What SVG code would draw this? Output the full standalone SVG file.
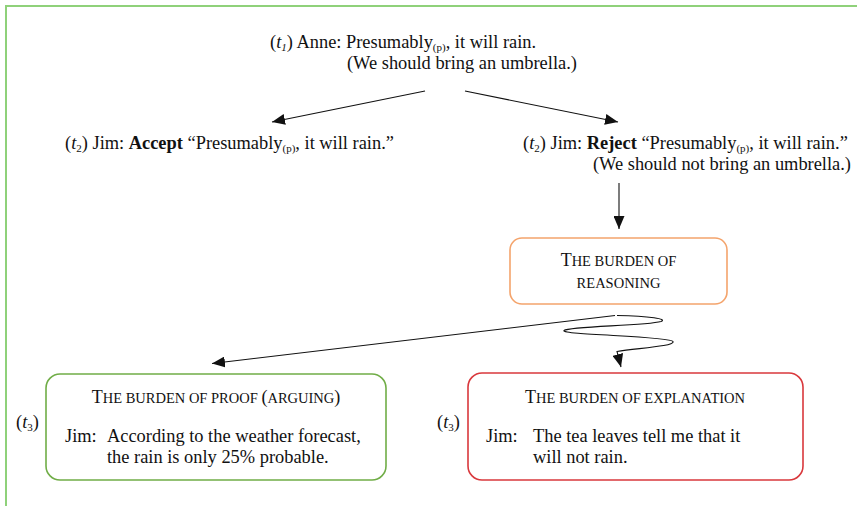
<svg xmlns="http://www.w3.org/2000/svg" width="857" height="506" viewBox="0 0 857 506">
  <style>
    text { font-family: "Liberation Serif", "Times New Roman", serif; font-size: 18.4px; fill: #111; }
    .sub { font-size: 11px; }
    .it { font-style: italic; }
    .b { font-weight: bold; }
    .cap { font-size: 18px; }
    .sm { font-size: 14.5px; }
    .conn { fill: none; stroke: #111; stroke-width: 1.1; }
    .box { fill: #fff; stroke-width: 1.6; }
  </style>
  <defs>
    <marker id="arrow" viewBox="0 0 13 11" refX="13" refY="5.5" markerWidth="13" markerHeight="11" markerUnits="userSpaceOnUse" orient="auto">
      <path d="M0,0 L13,5.5 L0,11 z" fill="#111"/>
    </marker>
  </defs>

  <rect width="857" height="506" fill="#fff"/>
  <!-- page frame -->
  <path d="M6,506 V6 H857" fill="none" stroke="#8fd17a" stroke-width="2"/>

  <!-- connectors -->
  <g id="connectors">
    <line class="conn" x1="425" y1="91" x2="272" y2="122" marker-end="url(#arrow)"/>
    <line class="conn" x1="465" y1="91" x2="618" y2="122" marker-end="url(#arrow)"/>
    <line class="conn" x1="619" y1="183" x2="619" y2="229" marker-end="url(#arrow)"/>
    <line class="conn" x1="615" y1="315.5" x2="212" y2="363.5" marker-end="url(#arrow)"/>
    <path class="conn" d="M617,315.5 C650,316 668,319 661,321.5 C645,326 570,326 564,330.5 C560,335 670,336 673,341.5 C675,346 640,348 617,351.5 L621,367" marker-end="url(#arrow)"/>
  </g>

  <!-- opening claim -->
  <g id="anne">
    <text x="270" y="48">(<tspan class="it">t</tspan><tspan class="sub it" dy="2.5">1</tspan><tspan dy="-2.5">) Anne: Presumably</tspan><tspan class="sub" dy="2.5">(p)</tspan><tspan dy="-2.5">, it will rain.</tspan></text>
    <text x="347" y="69">(We should bring an umbrella.)</text>
  </g>

  <g id="accept">
    <text x="65" y="149">(<tspan class="it">t</tspan><tspan class="sub" dy="2.5">2</tspan><tspan dy="-2.5">) Jim: </tspan><tspan class="b">Accept</tspan> “Presumably<tspan class="sub" dy="2.5">(p)</tspan><tspan dy="-2.5">, it will rain.”</tspan></text>
  </g>

  <g id="reject">
    <text x="523" y="149">(<tspan class="it">t</tspan><tspan class="sub" dy="2.5">2</tspan><tspan dy="-2.5">) Jim: </tspan><tspan class="b">Reject</tspan> “Presumably<tspan class="sub" dy="2.5">(p)</tspan><tspan dy="-2.5">, it will rain.”</tspan></text>
    <text x="593" y="170">(We should not bring an umbrella.)</text>
  </g>

  <g id="reasoning">
    <rect class="box" x="510" y="238" width="217" height="66" rx="12" stroke="#f4a46c"/>
    <text x="618.5" y="266" text-anchor="middle"><tspan class="cap">T</tspan><tspan class="sm">HE BURDEN OF</tspan></text>
    <text x="618.5" y="288" text-anchor="middle"><tspan class="sm">REASONING</tspan></text>
  </g>

  <g id="proof">
    <text x="16" y="428">(<tspan class="it">t</tspan><tspan class="sub" dy="2.5">3</tspan><tspan dy="-2.5">)</tspan></text>
    <rect class="box" x="46" y="374" width="340" height="106" rx="14" stroke="#70ad47"/>
    <text x="216" y="403" text-anchor="middle"><tspan class="cap">T</tspan><tspan class="sm">HE BURDEN OF PROOF </tspan><tspan class="cap">(</tspan><tspan class="sm">ARGUING</tspan><tspan class="cap">)</tspan></text>
    <text x="65" y="442">Jim:</text>
    <text x="107" y="442">According to the weather forecast,</text>
    <text x="107" y="463">the rain is only 25% probable.</text>
  </g>

  <g id="explanation">
    <text x="437" y="428">(<tspan class="it">t</tspan><tspan class="sub" dy="2.5">3</tspan><tspan dy="-2.5">)</tspan></text>
    <rect class="box" x="468" y="373" width="335" height="107" rx="14" stroke="#d9383c"/>
    <text x="635" y="403" text-anchor="middle"><tspan class="cap">T</tspan><tspan class="sm">HE BURDEN OF EXPLANATION</tspan></text>
    <text x="486" y="442">Jim:</text>
    <text x="533" y="442">The tea leaves tell me that it</text>
    <text x="533" y="463">will not rain.</text>
  </g>
</svg>
